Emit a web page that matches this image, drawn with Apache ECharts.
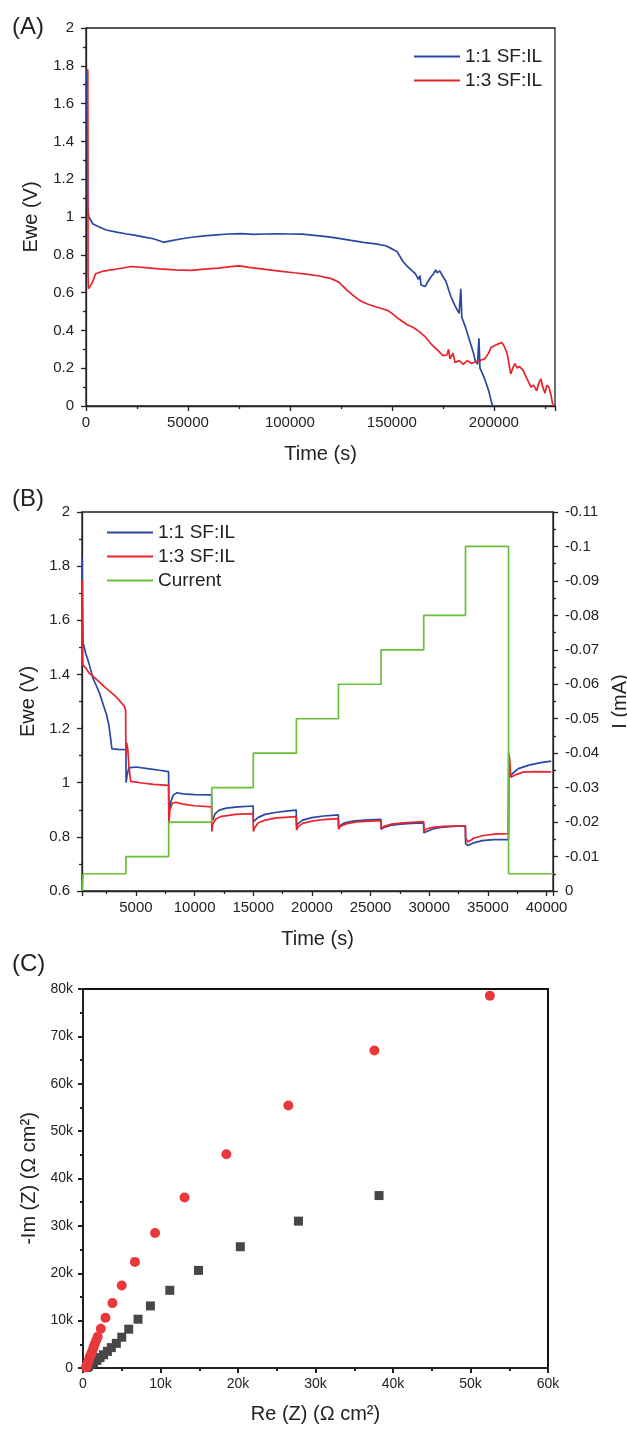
<!DOCTYPE html>
<html>
<head>
<meta charset="utf-8">
<script src="https://cdn.jsdelivr.net/npm/echarts@6/dist/echarts.min.js"></script>
<style>
html,body{margin:0;padding:0;background:#fff}
#main{width:627px;height:1429px}
</style>
</head>
<body>
<div id="main"></div>
<script>
// (A) discharge curves, time (s) / Ewe (V)
var dischargeBlue = [[500,1.78],[800,1.05],[1400,1.0],[3400,0.963],[6000,0.95],[9900,0.931],[15000,0.92],[20000,0.91],[23000,0.905],[28000,0.895],
  [33000,0.885],[36000,0.874],[38000,0.866],[42000,0.875],[47000,0.885],[52000,0.893],[58000,0.9],[64000,0.905],[70000,0.91],[76000,0.912],
  [82000,0.908],[88000,0.91],[94000,0.911],[100000,0.91],[106000,0.909],[112000,0.903],[118000,0.896],[124000,0.887],[130000,0.876],[136000,0.866],
  [142000,0.858],[147000,0.848],[149600,0.834],[151000,0.826],[152600,0.816],[155500,0.763],[157500,0.74],[159400,0.72],[161500,0.7],[163000,0.67],
  [163800,0.69],[164300,0.64],[165200,0.65],[166300,0.632],[167500,0.655],[169200,0.684],[170500,0.7],[171500,0.72],[172200,0.705],[173500,0.715],
  [175100,0.684],[176500,0.66],[178000,0.61],[179000,0.578],[181000,0.53],[183000,0.49],[183800,0.62],[184300,0.47],[186000,0.42],[188000,0.35],
  [190000,0.28],[190800,0.243],[192000,0.22],[192700,0.358],[193200,0.2],[194500,0.17],[195700,0.138],[197500,0.08],[199000,0.014],[199500,0]];
var dischargeRed = [[900,1.78],[1000,0.7],[1200,0.62],[2000,0.625],[3000,0.65],[4700,0.7],[8600,0.714],[15000,0.725],[22300,0.738],[29000,0.732],
  [36000,0.726],[44000,0.72],[51700,0.718],[58000,0.724],[65000,0.73],[71000,0.737],[75200,0.741],[80000,0.733],[87000,0.724],[94800,0.714],
  [102000,0.705],[108000,0.698],[114400,0.688],[120300,0.674],[124000,0.655],[128100,0.612],[131000,0.585],[134000,0.56],[138000,0.54],[142000,0.525],
  [145700,0.513],[148000,0.505],[150000,0.49],[153500,0.46],[157500,0.43],[160500,0.415],[163300,0.395],[166000,0.37],[169200,0.329],[172000,0.3],
  [175100,0.267],[177000,0.27],[177800,0.3],[178500,0.25],[180000,0.28],[181000,0.23],[183000,0.24],[185000,0.22],[187000,0.24],[189000,0.225],
  [190800,0.233],[193000,0.24],[195600,0.25],[197500,0.28],[198600,0.31],[200500,0.32],[202500,0.33],[204000,0.335],[204900,0.32],[206500,0.28],
  [208300,0.17],[209300,0.2],[210300,0.224],[211500,0.2],[212500,0.21],[214300,0.19],[216000,0.15],[218200,0.1],[219500,0.11],[221000,0.08],
  [222000,0.12],[223100,0.144],[224000,0.1],[225100,0.068],[226000,0.11],[227000,0.1],[228000,0.06],[229000,0]];

// (B) rate test, time (s) / Ewe (V)
var rateBlue = [[420,1.83],[440,1.65],[480,1.52],[700,1.48],[1000,1.44],[1300,1.39],[1600,1.36],[1900,1.33],[2200,1.29],[2500,1.25],[2700,1.21],[2850,1.16],[2950,1.125],[3500,1.123],[4140,1.122],
  [4160,1.0],[4250,1.03],[4400,1.055],[5000,1.058],[6000,1.052],[7000,1.046],[7780,1.041],
  [7800,0.92],[7900,0.905],[8000,0.935],[8200,0.955],[8500,0.963],[9000,0.959],[10000,0.956],[11450,0.955],
  [11470,0.87],[11550,0.862],[11750,0.886],[12100,0.899],[12700,0.906],[13700,0.911],[14990,0.914],
  [15010,0.856],[15100,0.85],[15400,0.871],[16000,0.883],[17000,0.891],[18000,0.896],[18660,0.899],
  [18690,0.84],[18800,0.848],[19200,0.862],[20000,0.871],[21000,0.877],[22250,0.881],
  [22270,0.838],[22400,0.845],[22800,0.852],[23500,0.858],[24500,0.862],[25880,0.865],
  [25900,0.828],[26100,0.834],[26700,0.842],[27500,0.847],[28500,0.85],[29520,0.852],
  [29540,0.815],[29700,0.82],[30300,0.829],[31000,0.835],[32000,0.839],[33080,0.841],
  [33100,0.775],[33300,0.768],[33800,0.778],[34500,0.786],[35500,0.79],[36750,0.79],
  [36780,1.05],[36900,1.024],[37100,1.034],[37600,1.052],[38500,1.065],[39500,1.074],[40400,1.08]];
var rateRed = [[420,1.75],[445,1.55],[470,1.435],[700,1.425],[1000,1.405],[1300,1.395],[1800,1.375],[2300,1.355],[2700,1.34],[3200,1.322],[3600,1.303],[4000,1.283],[4120,1.268],
  [4140,1.1],[4200,1.148],[4300,1.125],[4400,1.06],[4550,1.005],[5500,0.999],[6500,0.994],[7780,0.99],
  [7800,0.85],[7900,0.9],[8100,0.924],[8400,0.928],[9000,0.921],[10000,0.915],[11450,0.911],
  [11470,0.82],[11550,0.846],[11800,0.866],[12300,0.876],[13500,0.883],[14990,0.886],
  [15010,0.82],[15100,0.832],[15400,0.851],[16000,0.862],[17000,0.87],[18660,0.875],
  [18690,0.825],[18800,0.836],[19200,0.85],[20000,0.858],[21000,0.864],[22250,0.867],
  [22270,0.828],[22400,0.838],[22900,0.848],[23800,0.855],[25880,0.86],
  [25900,0.83],[26100,0.838],[26800,0.847],[27800,0.852],[29520,0.856],
  [29540,0.82],[29700,0.828],[30300,0.835],[31200,0.839],[33080,0.841],
  [33100,0.796],[33300,0.781],[33800,0.795],[34600,0.805],[35600,0.81],[36750,0.812],
  [36770,1.11],[36850,1.09],[36950,1.02],[37100,1.015],[37400,1.03],[38000,1.039],[39000,1.041],[40400,1.04]];
// current steps (mA), each value holds until the next time
var stepTimes = [400, 500, 4145, 7790, 11460, 15000, 18675, 22265, 25890, 29530, 33090, 36760, 40550];
var stepCurrents = [0, -0.005, -0.01, -0.02, -0.03, -0.04, -0.05, -0.06, -0.07, -0.08, -0.1, -0.005, -0.005];

// (C) impedance, Re(Z) / -Im(Z) in ohm cm2
var nyquistRed = [[400,100],[450,350],[500,600],[600,1000],[700,1400],[800,1900],[900,2400],[1050,3000],[1200,3600],[1350,4300],[1500,5000],[1700,5800],
  [1900,6600],[2300,8300],[2900,10600],[3800,13700],[5000,17400],[6700,22400],[9300,28500],[13100,36000],[18500,45100],[26500,55400],[37600,67000],[52500,78600]];
var nyquistGray = [[500,100],[700,350],[1000,800],[1360,1100],[1800,1600],[2200,2200],[2650,2800],[3150,3500],[3650,4300],[4300,5200],[5000,6500],
  [5900,8200],[7100,10300],[8700,13100],[11200,16400],[14900,20600],[20300,25600],[27800,31000],[38200,36400]];

var FONT = 'Liberation Sans, Arial, sans-serif';
var INK = '#222';
var BLUE = '#2a47a2';
var RED = '#e8232b';
var GREEN = '#6cbf3a';

function axis(gridIndex, w) {
  return {
    type: 'value', gridIndex: gridIndex,
    splitLine: {show: false},
    axisLine: {show: true, onZero: false, lineStyle: {color: INK, width: w}},
    axisTick: {show: true, inside: false, length: 5, lineStyle: {color: INK, width: w}},
    minorTick: {show: true, splitNumber: 2, length: 3, lineStyle: {color: INK, width: w}},
    axisLabel: {color: INK, fontFamily: FONT, fontSize: 15},
    nameLocation: 'middle',
    nameTextStyle: {color: INK, fontFamily: FONT, fontSize: 20}
  };
}
function ext(base, more) {
  for (var k in more) base[k] = more[k];
  return base;
}
function lineSeries(name, data, color, xi, yi) {
  return {
    name: name, type: 'line', data: data, xAxisIndex: xi, yAxisIndex: yi,
    symbol: 'none', showSymbol: false, animation: false,
    lineStyle: {color: color, width: 1.7}, itemStyle: {color: color}
  };
}

var stepData = [];
for (var i = 0; i < stepTimes.length; i++) stepData.push([stepTimes[i], stepCurrents[i]]);

var chart = echarts.init(document.getElementById('main'));
var option = {
  backgroundColor: '#fff',
  animation: false,
  textStyle: {fontFamily: FONT},
  graphic: [
    {type: 'text', left: 12, top: 15, style: {text: '(A)', fontSize: 24, fontFamily: FONT, fill: INK}},
    {type: 'text', left: 12, top: 487, style: {text: '(B)', fontSize: 24, fontFamily: FONT, fill: INK}},
    {type: 'text', left: 12, top: 952, style: {text: '(C)', fontSize: 24, fontFamily: FONT, fill: INK}}
  ],
  grid: [
    {left: 86, top: 28, width: 469, height: 378, show: true, borderColor: INK, borderWidth: 1.3, outerBoundsMode: 'none'},
    {left: 82, top: 512, width: 471, height: 379, show: true, borderColor: INK, borderWidth: 1.3, outerBoundsMode: 'none'},
    {left: 83, top: 989, width: 465, height: 379, show: true, borderColor: '#111', borderWidth: 2, outerBoundsMode: 'none'}
  ],
  legend: [
    {left: 409, top: 42, orient: 'vertical', icon: 'rect', itemWidth: 46, itemHeight: 2, itemGap: 5,
     textStyle: {color: INK, fontFamily: FONT, fontSize: 19}, data: ['1:1 SF:IL', '1:3 SF:IL']},
    {left: 102, top: 518, orient: 'vertical', icon: 'rect', itemWidth: 46, itemHeight: 2, itemGap: 5,
     textStyle: {color: INK, fontFamily: FONT, fontSize: 19}, data: ['1:1 SF:IL', '1:3 SF:IL', 'Current']}
  ],
  xAxis: [
    ext(axis(0, 1.3), {min: 0, max: 230000, interval: 50000, name: 'Time (s)', nameGap: 38,
      axisLabel: {color: INK, fontFamily: FONT, fontSize: 15, margin: 9,
        formatter: function (v) { return v % 50000 === 0 ? String(v) : ''; }}}),
    ext(axis(1, 1.3), {min: 400, max: 40550, splitNumber: 8, minInterval: 5000, maxInterval: 5000,
      name: 'Time (s)', nameGap: 38,
      axisLabel: {color: INK, fontFamily: FONT, fontSize: 15, margin: 9,
        formatter: function (v) { return v % 5000 === 0 ? String(v) : ''; }}}),
    ext(axis(2, 2), {min: 0, max: 60000, interval: 10000, name: 'Re (Z) (Ω cm²)', nameGap: 36,
      axisLabel: {color: INK, fontFamily: FONT, fontSize: 14, margin: 9,
        formatter: function (v) { return v === 0 ? '0' : (v / 1000) + 'k'; }}})
  ],
  yAxis: [
    ext(axis(0, 1.3), {min: 0, max: 2, interval: 0.2, name: 'Ewe (V)', nameGap: 45,
      axisLabel: {color: INK, fontFamily: FONT, fontSize: 15, margin: 12}}),
    ext(axis(1, 1.3), {min: 0.6, max: 2, interval: 0.2, name: 'Ewe (V)', nameGap: 43,
      axisLabel: {color: INK, fontFamily: FONT, fontSize: 15, margin: 12}}),
    ext(axis(1, 1.3), {position: 'right', inverse: true, min: -0.11, max: 0, interval: 0.01,
      name: 'I (mA)', nameGap: 48,
      axisLabel: {color: INK, fontFamily: FONT, fontSize: 15, margin: 12}}),
    ext(axis(2, 2), {min: 0, max: 80000, interval: 10000, name: '-Im (Z) (Ω cm²)', nameGap: 41,
      axisLabel: {color: INK, fontFamily: FONT, fontSize: 14, margin: 10,
        formatter: function (v) { return v === 0 ? '0' : (v / 1000) + 'k'; }}})
  ],
  series: [
    lineSeries('1:1 SF:IL', dischargeBlue, BLUE, 0, 0),
    lineSeries('1:3 SF:IL', dischargeRed, RED, 0, 0),
    lineSeries('1:1 SF:IL', rateBlue, BLUE, 1, 1),
    lineSeries('1:3 SF:IL', rateRed, RED, 1, 1),
    ext(lineSeries('Current', stepData, GREEN, 1, 2), {step: 'end'}),
    {type: 'scatter', xAxisIndex: 2, yAxisIndex: 3, data: nyquistGray, symbol: 'rect', symbolSize: 9,
     itemStyle: {color: '#474747', opacity: 1}, animation: false},
    {type: 'scatter', xAxisIndex: 2, yAxisIndex: 3, data: nyquistRed, symbol: 'circle', symbolSize: 10,
     itemStyle: {color: '#e8383c', opacity: 1}, animation: false}
  ]
};
chart.setOption(option);
</script>
</body>
</html>
